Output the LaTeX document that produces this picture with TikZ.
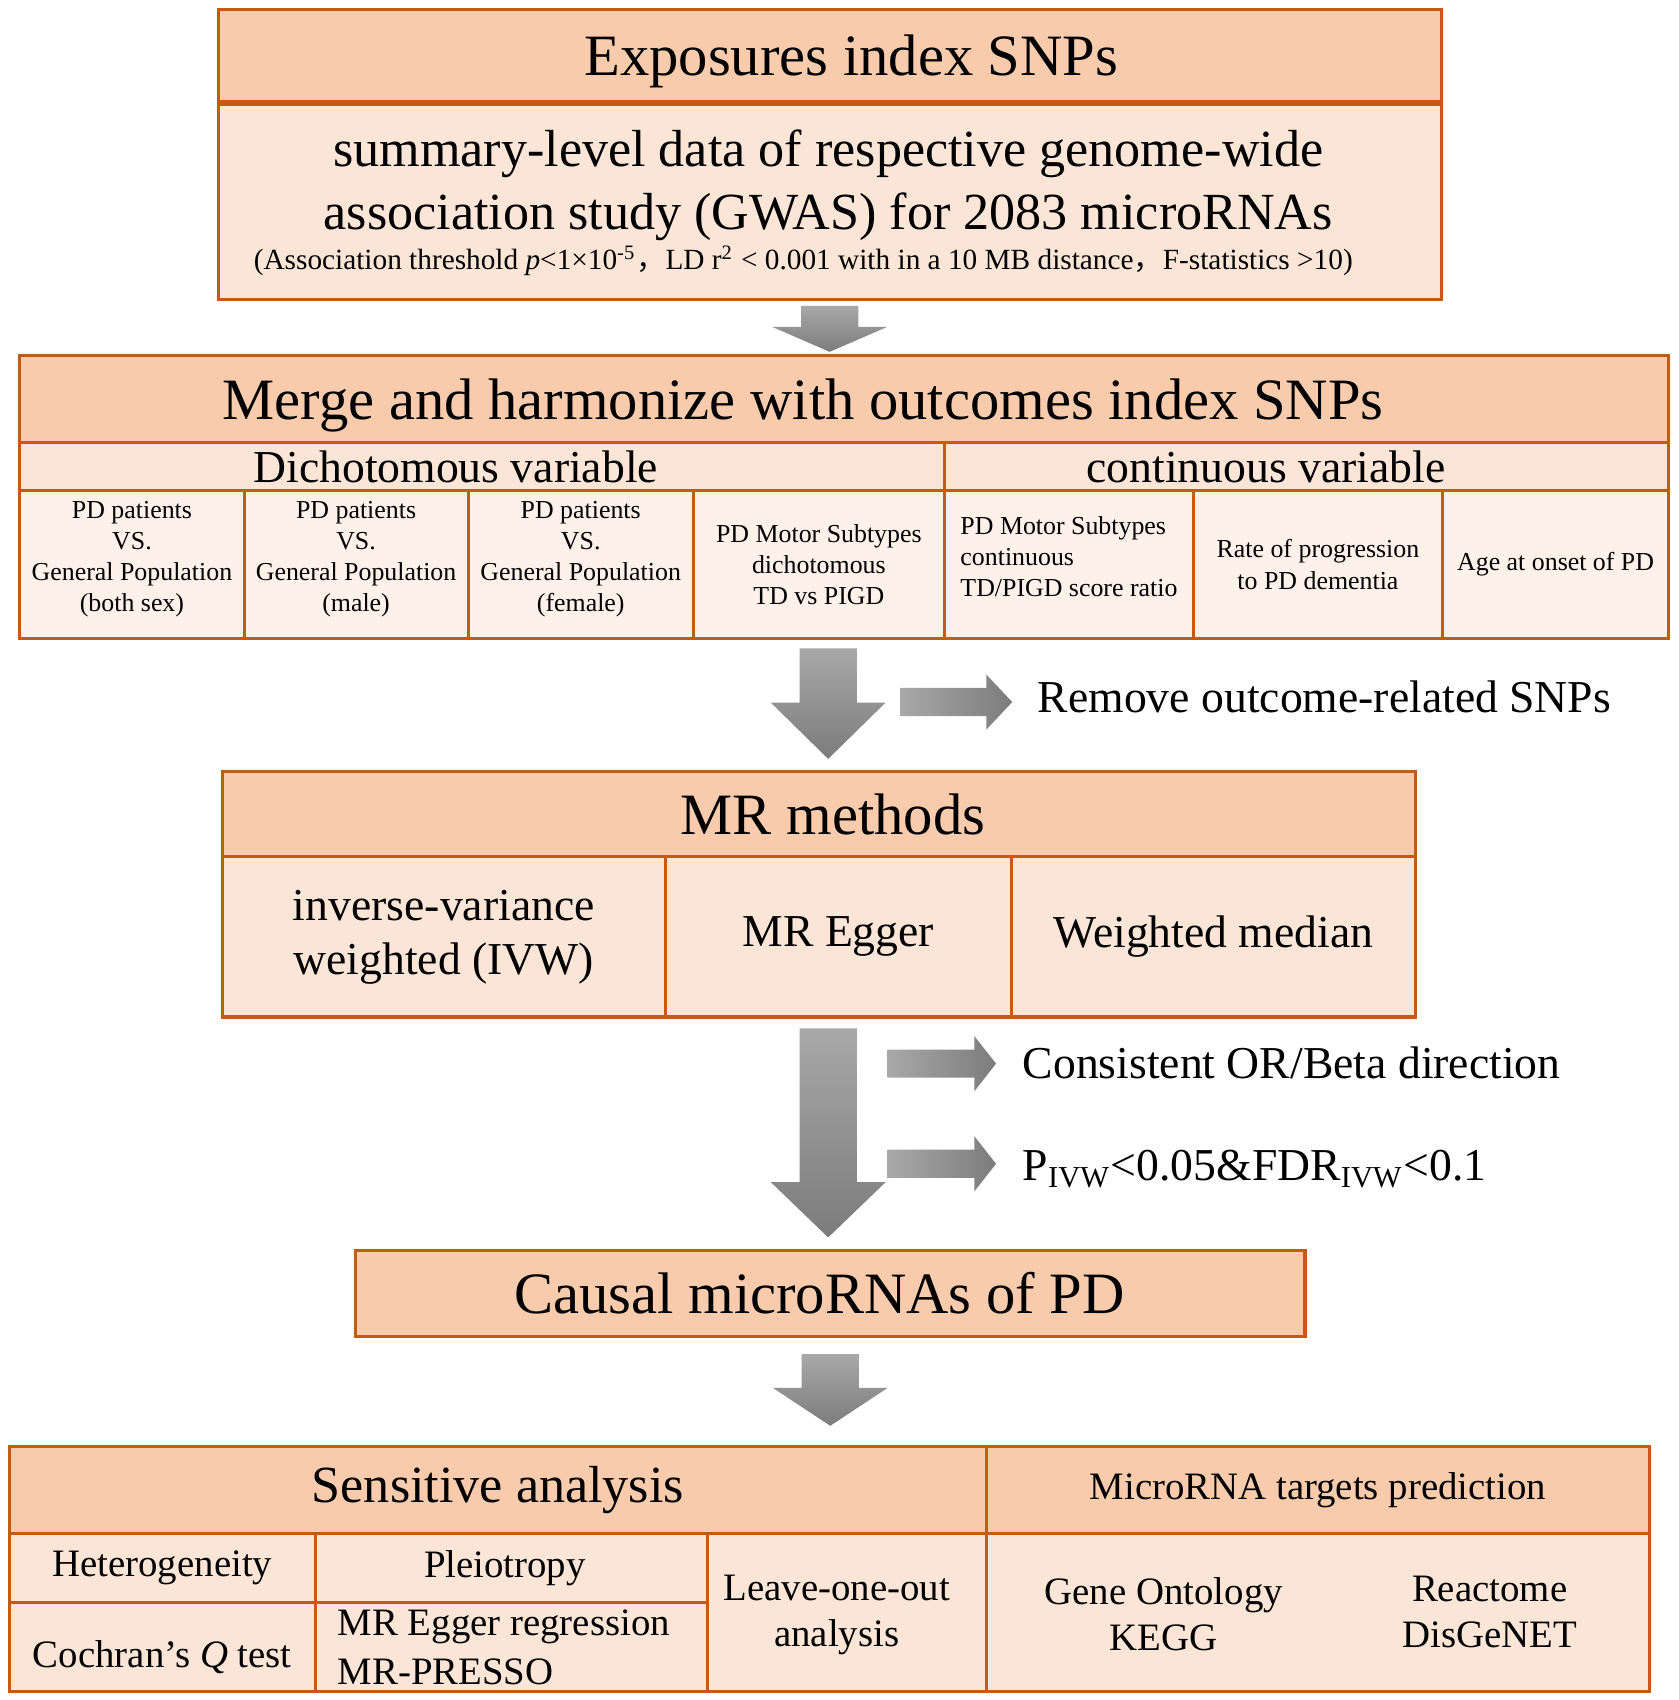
\documentclass[tikz,border=0pt]{standalone}
\usepackage{fontspec}
\setmainfont{Liberation Serif}
\newfontfamily\cjk{Noto Sans CJK SC}
\usetikzlibrary{calc}

\definecolor{brd}{HTML}{C55A11}
\definecolor{hdfill}{HTML}{F8CBAD}
\definecolor{bdfill}{HTML}{FBE5D6}
\definecolor{clfill}{HTML}{FDF1E9}
\definecolor{arrlight}{HTML}{A8A8A8}
\definecolor{arrdark}{HTML}{7C7C7C}

% block arrows: from, to, head length (mm)
\newcommand{\downblock}[3]{%
  \shade[top color=arrlight, bottom color=arrdark]
    let \p1=(#1), \p2=(#2) in
    (\x1-2.65mm,\y1) -- (\x1+2.65mm,\y1) -- (\x1+2.65mm,\y2+#3mm) -- (\x1+5.3mm,\y2+#3mm)
    -- (\x1,\y2) -- (\x1-5.3mm,\y2+#3mm) -- (\x1-2.65mm,\y2+#3mm) -- cycle;}
\newcommand{\rightblock}[3]{%
  \shade[left color=arrlight, right color=arrdark]
    let \p1=(#1), \p2=(#2) in
    (\x1,\y1+1.3mm) -- (\x2-#3mm,\y1+1.3mm) -- (\x2-#3mm,\y1+2.55mm) -- (\x2,\y1)
    -- (\x2-#3mm,\y1-2.55mm) -- (\x2-#3mm,\y1-1.3mm) -- (\x1,\y1-1.3mm) -- cycle;}

\tikzset{
  cellbox/.style={draw=brd, line width=0.8pt, inner sep=0pt, anchor=north west, align=center},
  span/.style 2 args={minimum width=#1mm, minimum height=#2mm},
  txt/.style={inner sep=0pt, anchor=west},
  big/.style={font=\fontsize{15.4}{18.5}\selectfont},
  sub/.style={font=\fontsize{13.7}{16.6}\selectfont},
  mid/.style={font=\fontsize{12}{14.2}\selectfont},
  low/.style={font=\fontsize{10.2}{12.2}\selectfont},
  tiny/.style={font=\fontsize{6.8}{8.2}\selectfont}
}

\begin{document}
\begin{tikzpicture}[x=1mm, y=-1mm]
  \fill[white] (0,0) rectangle (155,157.03);
  \useasboundingbox (0,0) rectangle (155,157.03);

  % exposures
  \node[cellbox, fill=hdfill, span={113}{8.5}, big, text depth=0pt] (exphd) at (20,0.7) {\hspace*{4mm}Exposures index SNPs};
  \node[cellbox, fill=bdfill, span={113}{18}] (expbd) at (exphd.south west) {};
  \node[sub, align=center] (gwas) at (76.5,17.1) {summary-level data of respective genome-wide\\association study (GWAS) for 2083 microRNAs};
  \node[font=\fontsize{7.7}{9}\selectfont, inner sep=0pt] (thr) at (74.2,24.1) {(Association threshold \textit{p}<1×10\textsuperscript{-5}{\cjk ，}LD r\textsuperscript{2} < 0.001 with in a 10 MB distance{\cjk ，}F-statistics >10)};

  % outcomes
  \node[cellbox, fill=hdfill, span={152.3}{8}, big, text depth=0pt] (mghd) at (1.7,32.7) {Merge and harmonize with outcomes index SNPs\hspace*{7.6mm}};
  \node[cellbox, fill=bdfill, span={85.4}{4.5}, mid] (dich) at (1.7,40.7) {Dichotomous variable\hspace*{4.9mm}};
  \node[cellbox, fill=bdfill, span={66.9}{4.5}, mid] (cont) at (87.1,40.7) {continuous variable\hspace*{7.5mm}};
  \node[cellbox, fill=clfill, span={20.7}{13.6}, tiny, text depth=1.5mm] (oc1) at (1.7,45.2) {PD patients\\VS.\\General Population\\(both sex)};
  \node[cellbox, fill=clfill, span={20.7}{13.6}, tiny, text depth=1.5mm] (oc2) at (22.4,45.2) {PD patients\\VS.\\General Population\\(male)};
  \node[cellbox, fill=clfill, span={20.8}{13.6}, tiny, text depth=1.5mm] (oc3) at (43.1,45.2) {PD patients\\VS.\\General Population\\(female)};
  \node[cellbox, fill=clfill, span={23.2}{13.6}, tiny] (oc4) at (63.9,45.2) {PD Motor Subtypes\\dichotomous\\TD vs PIGD};
  \node[cellbox, fill=clfill, span={23}{13.6}, tiny, align=left, text depth=1.5mm] (oc5) at (87.1,45.2) {PD Motor Subtypes\\continuous\\TD/PIGD score ratio};
  \node[cellbox, fill=clfill, span={23}{13.6}, tiny] (oc6) at (110.1,45.2) {Rate of progression\\to PD dementia};
  \node[cellbox, fill=clfill, span={20.9}{13.6}, tiny] (oc7) at (133.1,45.2) {Age at onset of PD};

  % MR methods
  \node[cellbox, fill=hdfill, span={110.2}{7.9}, big] (mrhd) at (20.4,71.1) {\hspace*{2.6mm}MR methods};
  \node[cellbox, fill=bdfill, span={40.9}{14.8}, mid] (ivw) at (20.4,79) {inverse-variance\\weighted (IVW)};
  \node[cellbox, fill=bdfill, span={32}{14.8}, mid] (egger) at (61.3,79) {MR Egger};
  \node[cellbox, fill=bdfill, span={37.3}{14.8}, mid] (wmed) at (93.3,79) {Weighted median};

  % causal
  \node[cellbox, fill=hdfill, span={87.7}{7.9}, big] (causal) at (32.7,115.4) {Causal microRNAs of PD\hspace*{2mm}};

  % sensitive analysis and targets
  \node[cellbox, fill=hdfill, span={90.3}{8}, sub] (sahd) at (0.7,133.5) {Sensitive analysis};
  \node[cellbox, fill=hdfill, span={61.2}{8}, low] (mthd) at (91,133.5) {MicroRNA targets prediction};
  \node[cellbox, fill=bdfill, span={28.3}{6.4}, low] (het) at (0.7,141.5) {Heterogeneity};
  \node[cellbox, fill=bdfill, span={28.3}{8.2}, low, text height=4.4mm] (coch) at (0.7,147.9) {Cochran’s \textit{Q} test};
  \node[cellbox, fill=bdfill, span={36.2}{6.4}, low] (plei) at (29,141.5) {Pleiotropy\hspace*{1.2mm}};
  \node[cellbox, fill=bdfill, span={36.2}{8.2}, low, align=left] (presso) at (29,147.9) {MR Egger regression\hspace*{1.4mm}\\[0.6pt]MR-PRESSO};
  \node[cellbox, fill=bdfill, span={25.8}{14.6}] (loo) at (65.2,141.5) {};
  \node[low, align=center, inner sep=0pt] (loot) at (77.3,149.2) {Leave-one-out\\analysis};
  \node[cellbox, fill=bdfill, span={61.2}{14.6}] (tgt) at (91,141.5) {};
  \node[low, align=center] (go) at (107.5,149.1) {Gene Ontology\\KEGG};
  \node[low, align=center] (rea) at (137.6,148.9) {Reactome\\DisGeNET};

  % arrows
  \downblock{[yshift=-0.5mm]expbd.south}{[yshift=0.2mm]mghd.north}{2.3}
  \coordinate (bsrc) at (76.5,59.9);
  \downblock{bsrc}{[yshift=1mm]mrhd.north}{5.2}
  \coordinate (rsrc) at (83.2,64.85);
  \node[mid, txt] (rmv) at (95.8,64.35) {Remove outcome-related SNPs};
  \rightblock{rsrc}{[xshift=-2.3mm]rmv.west}{2.4}

  \coordinate (csrc) at (76.5,95);
  \downblock{csrc}{[yshift=1.1mm]causal.north}{5.1}
  \coordinate (osrc) at (82,98.25);
  \node[mid, txt] (dir) at (94.4,98.2) {Consistent OR/Beta direction};
  \rightblock{osrc}{[xshift=-2.4mm]dir.west}{2}
  \coordinate (psrc) at (82,107.5);
  \node[mid, txt] (pv) at (94.4,108.0) {P\textsubscript{IVW}<0.05\&FDR\textsubscript{IVW}<0.1};
  \rightblock{psrc}{[xshift=-2.4mm]pv.west}{2}

  \downblock{[yshift=-1.5mm]causal.south}{[yshift=1.8mm]sahd.north}{3.5}
\end{tikzpicture}
\end{document}
